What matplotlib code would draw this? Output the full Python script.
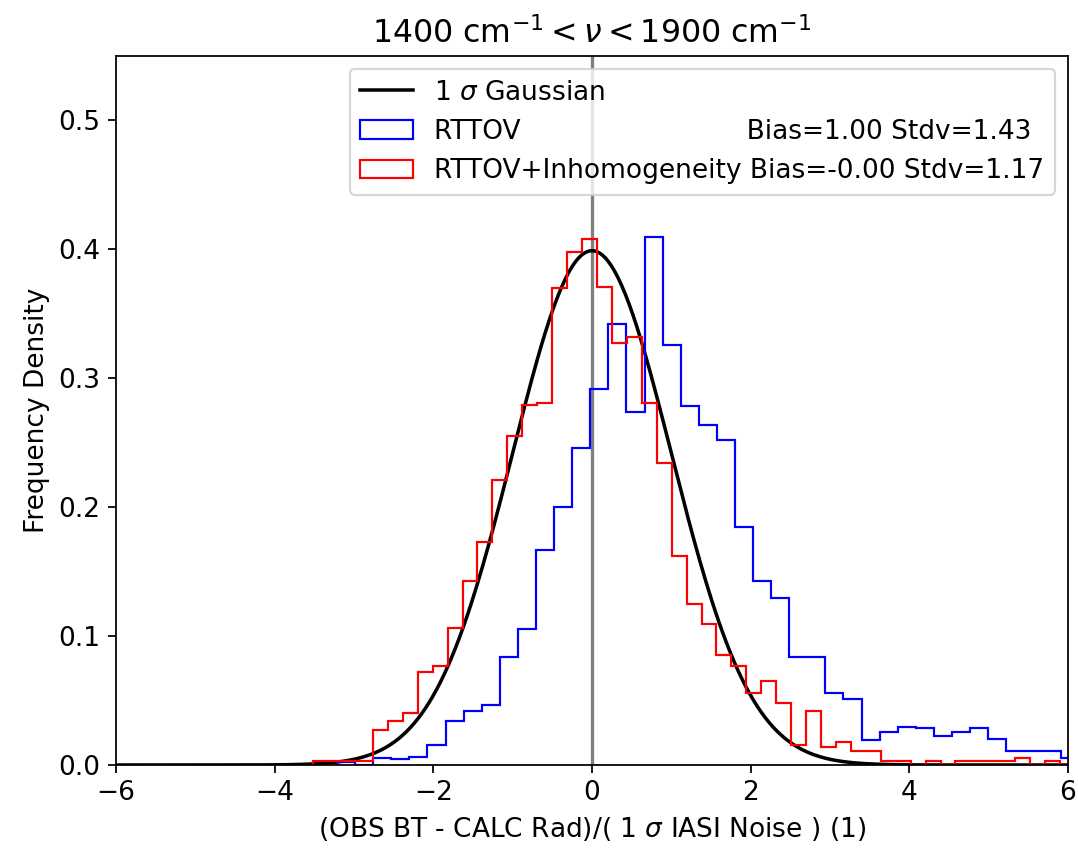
import matplotlib
matplotlib.use('Agg')
import matplotlib.pyplot as plt
import numpy as np

plt.rcParams['font.size'] = 12
DPI = 158

# red histogram: RTTOV + inhomogeneity (density per bin)
red_start = -3.515
red_width = 0.1883
red_vals = [0.0033, 0.0033, 0.0033, 0.0033, 0.027, 0.034, 0.040, 0.072, 0.077, 0.106,
            0.143, 0.173, 0.221, 0.255, 0.279, 0.281, 0.370, 0.398, 0.408, 0.371,
            0.327, 0.332, 0.281, 0.234, 0.162, 0.125, 0.109, 0.085, 0.077, 0.0555,
            0.0655, 0.048, 0.0155, 0.042, 0.014, 0.018, 0.011, 0.011, 0.0033, 0.0033,
            0.0, 0.0033, 0.0, 0.0033, 0.0033, 0.0033, 0.0033, 0.0052, 0.0, 0.0033,
            0.0]

# blue histogram: RTTOV only
blue_start = -3.214
blue_width = 0.228
blue_vals = [0.0027, 0.0, 0.0055, 0.0044, 0.0064, 0.0155, 0.0343, 0.042, 0.0464, 0.0834,
             0.1058, 0.167, 0.200, 0.2456, 0.2916, 0.3424, 0.2742, 0.4094, 0.3259, 0.2786,
             0.2637, 0.2518, 0.185, 0.143, 0.1297, 0.0836, 0.0836, 0.0555, 0.0509, 0.0196,
             0.0258, 0.0297, 0.0284, 0.0224, 0.0258, 0.0284, 0.0199, 0.0108, 0.0108, 0.0108,
             0.0052]

label_blue = 'RTTOV' + ' ' * 27 + 'Bias=1.00 Stdv=1.43'
label_red = 'RTTOV+Inhomogeneity Bias=-0.00 Stdv=1.17'


def edges_of(start, width, n):
    return start + width * np.arange(n + 1)


red_edges = edges_of(red_start, red_width, len(red_vals))
blue_edges = edges_of(blue_start, blue_width, len(blue_vals))

fig = plt.figure(figsize=(1078 / DPI, 850 / DPI), dpi=DPI)
ax = fig.add_subplot(111)
fig.subplots_adjust(left=0.1076, right=0.9907, bottom=0.1, top=0.9341)

ax.axvline(0, color='grey', lw=1.5)

x = np.linspace(-6, 6, 500)
gauss = np.exp(-0.5 * x ** 2) / np.sqrt(2 * np.pi)
ax.plot(x, gauss, color='k', lw=1.6, label=r'1 $\sigma$ Gaussian')

ax.hist(0.5 * (blue_edges[:-1] + blue_edges[1:]), bins=blue_edges, weights=blue_vals,
        histtype='step', color='blue', label=label_blue)
ax.hist(0.5 * (red_edges[:-1] + red_edges[1:]), bins=red_edges, weights=red_vals,
        histtype='step', color='red', label=label_red)

ax.set_xlim(-6, 6)
ax.set_ylim(0, 0.55)
ax.set_xlabel(r'(OBS BT - CALC Rad)/( 1 $\sigma$ IASI Noise ) (1)')
ax.set_ylabel('Frequency Density')
ax.set_title(r'1400 cm$^{-1} < \nu <$1900 cm$^{-1}$')
ax.legend(loc='upper right')

fig.savefig('out.png', dpi=DPI)
